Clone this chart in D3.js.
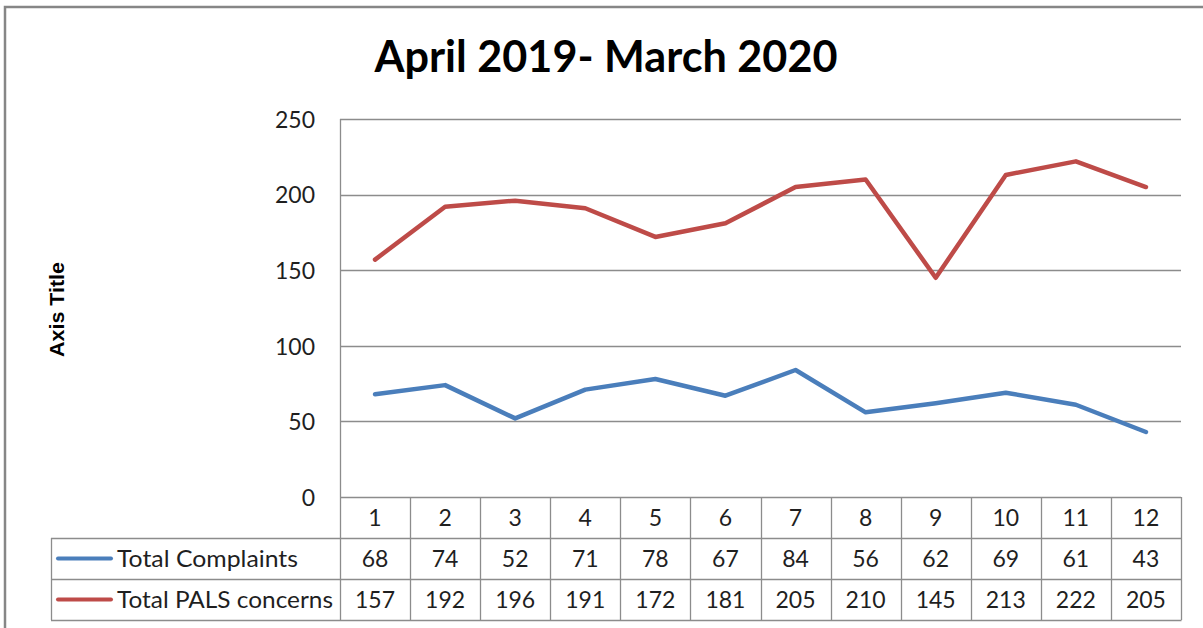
<!DOCTYPE html>
<html>
<head>
<meta charset="utf-8">
<script src="https://cdn.jsdelivr.net/npm/d3@7"></script>
<style>
  html, body { margin: 0; padding: 0; background: #fff; }
  svg { display: block; }
  text { fill: #1f1f1f; }
</style>
</head>
<body>
<svg id="chart" width="1203" height="628"></svg>
<script>
// Monthly figures, April 2019 (1) to March 2020 (12)
const months = ["1", "2", "3", "4", "5", "6", "7", "8", "9", "10", "11", "12"];
const complaints = [68, 74, 52, 71, 78, 67, 84, 56, 62, 69, 61, 43];
const palsConcerns = [157, 192, 196, 191, 172, 181, 205, 210, 145, 213, 222, 205];
const seriesNames = ["Total Complaints", "Total PALS concerns"];
const seriesColors = ["#4A7EBB", "#BE4B48"];
const yTicks = [0, 50, 100, 150, 200, 250];
const chartTitle = "April 2019- March 2020";
const yAxisTitle = "Axis Title";

const series = [complaints, palsConcerns].map((values, i) => ({
  name: seriesNames[i], color: seriesColors[i], values
}));

const svg = d3.select("#chart");
const bodyFont = "Lato, 'Open Sans', sans-serif";
const bodySize = 23;
const gridColor = "#8c8c8c";

// Plot geometry
const plotLeft = 340, plotRight = 1181, plotTop = 119, plotBottom = 497;
const rowH = 41;
const tableLeft = 51;
const legendTextWidths = [181, 216];

const x = d3.scaleBand().domain(months).range([plotLeft, plotRight]).padding(0);
const y = d3.scaleLinear().domain([0, 250]).range([plotBottom, plotTop]);

// Chart frame
svg.append("rect")
  .attr("x", 5).attr("y", 7)
  .attr("width", 1210).attr("height", 640)
  .attr("fill", "#fff")
  .attr("stroke", "#868686").attr("stroke-width", 2.5);

// Title
svg.append("text")
  .attr("x", 606).attr("y", 72)
  .attr("text-anchor", "middle")
  .attr("font-family", "Lato, 'Open Sans', sans-serif")
  .attr("font-weight", 700)
  .attr("font-size", 44)
  .attr("textLength", 463)
  .attr("lengthAdjust", "spacingAndGlyphs")
  .style("fill", "#000")
  .text(chartTitle);

// Horizontal gridlines and value axis
const yAxis = d3.axisLeft(y).tickValues(yTicks).tickSize(0).tickPadding(25);
const yG = svg.append("g").attr("transform", `translate(${plotLeft},0)`).call(yAxis);
yG.select(".domain").remove();
yG.selectAll("text")
  .attr("font-family", bodyFont)
  .attr("font-size", bodySize)
  .attr("dy", "0.36em")
  .style("fill", "#1f1f1f");

svg.append("g")
  .selectAll("line")
  .data(yTicks)
  .join("line")
  .attr("x1", plotLeft).attr("x2", plotRight)
  .attr("y1", d => Math.round(y(d)) + 0.5).attr("y2", d => Math.round(y(d)) + 0.5)
  .attr("stroke", gridColor).attr("stroke-width", 1.3);

// Axis title
svg.append("text")
  .attr("transform", `translate(64,${(262 + 357) / 2}) rotate(-90)`)
  .attr("text-anchor", "middle")
  .attr("font-family", "'Liberation Sans', Arial, sans-serif")
  .attr("font-weight", 700)
  .attr("font-size", 20)
  .attr("textLength", 95)
  .attr("lengthAdjust", "spacingAndGlyphs")
  .style("fill", "#000")
  .text(yAxisTitle);

// Data table below the plot
const tableG = svg.append("g");
const tableBottom = plotBottom + rowH * 3;

// vertical column borders (run from the plot bottom through the table)
tableG.selectAll("line.col")
  .data(months.map(m => x(m)).concat([plotRight]))
  .join("line")
  .attr("class", "col")
  .attr("x1", d => Math.round(d) + 0.5).attr("x2", d => Math.round(d) + 0.5)
  .attr("y1", plotBottom).attr("y2", tableBottom)
  .attr("stroke", gridColor).attr("stroke-width", 1.3);

// value axis line
svg.append("line")
  .attr("x1", plotLeft + 0.5).attr("x2", plotLeft + 0.5)
  .attr("y1", plotTop).attr("y2", plotBottom)
  .attr("stroke", gridColor).attr("stroke-width", 1.3);

// horizontal row borders
const rowLines = [plotBottom + rowH, plotBottom + rowH * 2, tableBottom];
tableG.selectAll("line.row")
  .data(rowLines)
  .join("line")
  .attr("class", "row")
  .attr("x1", tableLeft).attr("x2", plotRight + 0.5)
  .attr("y1", d => d + 0.5).attr("y2", d => d + 0.5)
  .attr("stroke", gridColor).attr("stroke-width", 1.3);

// left edge of the legend column
tableG.append("line")
  .attr("x1", tableLeft + 0.5).attr("x2", tableLeft + 0.5)
  .attr("y1", plotBottom + rowH).attr("y2", tableBottom)
  .attr("stroke", gridColor).attr("stroke-width", 1.3);

// category header row
tableG.selectAll("text.cat")
  .data(months)
  .join("text")
  .attr("class", "cat")
  .attr("x", d => x(d) + x.bandwidth() / 2)
  .attr("y", plotBottom + rowH / 2)
  .attr("dy", "0.36em")
  .attr("text-anchor", "middle")
  .attr("font-family", bodyFont)
  .attr("font-size", bodySize)
  .text(d => d);

// series rows: legend key, name and values
series.forEach((s, i) => {
  const cy = plotBottom + rowH * (i + 1) + rowH / 2;
  tableG.append("line")
    .attr("x1", 58).attr("x2", 111)
    .attr("y1", cy).attr("y2", cy)
    .attr("stroke", s.color).attr("stroke-width", 4)
    .attr("stroke-linecap", "round");
  tableG.append("text")
    .attr("x", 117).attr("y", cy)
    .attr("dy", "0.36em")
    .attr("font-family", bodyFont)
    .attr("font-size", bodySize)
    .attr("textLength", legendTextWidths[i])
    .attr("lengthAdjust", "spacingAndGlyphs")
    .text(s.name);
  tableG.selectAll(null)
    .data(s.values)
    .join("text")
    .attr("x", (d, j) => x(months[j]) + x.bandwidth() / 2)
    .attr("y", cy)
    .attr("dy", "0.36em")
    .attr("text-anchor", "middle")
    .attr("font-family", bodyFont)
    .attr("font-size", bodySize)
    .text(d => d);
});

// Lines
const line = d3.line()
  .x((d, j) => x(months[j]) + x.bandwidth() / 2)
  .y(d => y(d));

svg.append("g")
  .selectAll("path")
  .data(series)
  .join("path")
  .attr("d", d => line(d.values))
  .attr("fill", "none")
  .attr("stroke", d => d.color)
  .attr("stroke-width", 4.5)
  .attr("stroke-linejoin", "round")
  .attr("stroke-linecap", "round");
</script>
</body>
</html>
